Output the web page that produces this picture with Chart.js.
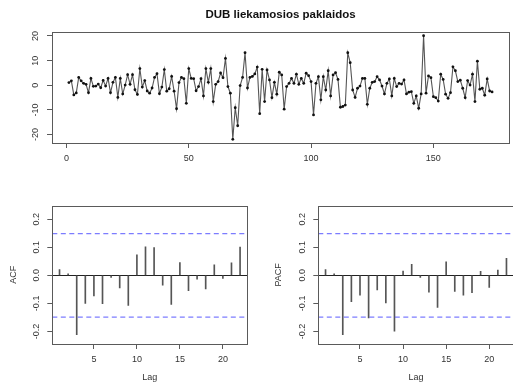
<!DOCTYPE html>
<html>
<head>
<meta charset="utf-8">
<script src="https://cdn.jsdelivr.net/npm/chart.js@4.4.0/dist/chart.umd.min.js"></script>
<style>
  html, body { margin: 0; padding: 0; background: #fff; overflow: hidden; }
  body { width: 513px; height: 385px; position: relative; }
  canvas { position: absolute; }
</style>
</head>
<body>
<canvas id="series" width="513" height="175" style="left:0;top:0"></canvas>
<canvas id="acf" width="257" height="210" style="left:0;top:175px"></canvas>
<canvas id="pacf" width="262" height="210" style="left:256px;top:175px"></canvas>
<script>
// residuals of the DUB model (t = 1..174)
const residuals = [
  1.1, 1.8, -3.9, -3.1, 3.2, 1.8, 0.8, 0.4, -3.0, 2.8,
  -0.4, -0.3, 0.5, -1.0, 2.0, -0.3, 2.8, -3.0, 1.2, 3.2,
  -4.9, 2.8, -3.5, 0.1, 4.3, 0.4, 4.3, -1.8, -3.7, 6.8,
  -0.7, 1.9, -2.3, -3.2, -1.1, 3.2, 4.7, -3.4, -0.7, 6.4,
  -2.4, -1.4, 3.6, -2.4, -9.5, 1.1, 3.2, 2.7, -7.3, 6.8,
  2.8, 2.7, -2.2, -0.5, 2.7, -4.3, 6.8, 1.2, 6.8, -6.6,
  0.4, 1.5, 5.0, 3.1, 10.9, -0.5, -3.2, -21.9, -9.1, -16.4,
  -0.1, 3.2, 13.2, -1.1, 3.2, 3.6, 4.6, 7.4, -11.5, 6.5,
  -6.6, 6.2, 2.2, -5.0, 1.2, -3.6, 5.3, 4.2, -9.7, -0.5,
  0.8, 2.8, 0.8, 4.5, 0.4, 2.8, 0.8, 4.9, 3.9, 1.5,
  -12.0, 0.8, 3.5, -5.9, 3.5, -1.9, 5.9, -4.3, 4.2, 5.1,
  2.4, -8.9, -8.6, -8.0, 13.2, 9.2, -1.9, -4.9, -1.2, -0.3,
  2.8, 2.8, -7.7, -1.2, 1.2, 1.5, 3.5, 2.2, -0.3, -3.5,
  0.8, 2.6, -4.3, 2.8, -0.5, 0.8, 0.5, 2.2, -3.5, -2.8,
  -2.6, -7.3, -4.3, -9.3, -3.5, 20.1, -3.2, 3.8, 3.1, -4.6,
  -5.0, -6.4, 4.5, 2.4, -3.6, -5.3, -3.0, 7.5, 5.9, 1.5,
  2.1, -1.2, -5.0, 1.9, 0.1, 4.5, -6.6, 9.8, -1.6, -1.2,
  -4.0, 2.6, -2.3, -2.7
];

const lags = [1, 2, 3, 4, 5, 6, 7, 8, 9, 10, 11, 12, 13, 14, 15, 16, 17, 18, 19, 20, 21, 22];
const acfValues = [
  0.021, 0.005, -0.212, -0.100, -0.073, -0.101, -0.007, -0.045, -0.107, 0.073, 0.102,
  0.099, -0.035, -0.104, 0.046, -0.055, -0.014, -0.048, 0.038, -0.011, 0.045, 0.101
];
const pacfValues = [
  0.021, 0.005, -0.212, -0.094, -0.071, -0.152, -0.052, -0.098, -0.199, 0.015, 0.039,
  -0.007, -0.060, -0.114, 0.048, -0.057, -0.071, -0.062, 0.014, -0.043, 0.019, 0.061
];
const ciLimit = 0.149; // dashed significance bounds

const seriesXTicks = [0, 50, 100, 150];
const seriesYTicks = [-20, -10, 0, 10, 20];
const lagTicks = [5, 10, 15, 20];
const corrTicks = [-0.2, -0.1, 0.0, 0.1, 0.2];

const FONT = '"Liberation Sans", Arial, Helvetica, sans-serif';
const TEXT = '#333';
const FRAME = '#5a5a5a';

// R-like frame: box around plot, rotated y tick labels, optional ref lines
const rFrame = {
  id: 'rFrame',
  beforeDatasetsDraw(chart, args, opts) {
    const { ctx, chartArea: a } = chart;
    const y = chart.scales.y;
    if (opts.zeroLine) {
      ctx.save();
      ctx.strokeStyle = '#222';
      ctx.lineWidth = 1;
      const zy = Math.round(y.getPixelForValue(0)) + 0.5;
      ctx.beginPath();
      ctx.moveTo(a.left, zy);
      ctx.lineTo(a.right, zy);
      ctx.stroke();
      ctx.restore();
    }
  },
  afterDatasetsDraw(chart, args, opts) {
    const { ctx, chartArea: a } = chart;
    const y = chart.scales.y;
    if (opts.bounds) {
      ctx.save();
      ctx.strokeStyle = 'rgba(80,80,255,0.75)';
      ctx.lineWidth = 1.2;
      ctx.setLineDash([5, 3.5]);
      opts.bounds.forEach(b => {
        const by = y.getPixelForValue(b);
        ctx.beginPath();
        ctx.moveTo(a.left, by);
        ctx.lineTo(a.right, by);
        ctx.stroke();
      });
      ctx.restore();
    }
  },
  afterDraw(chart, args, opts) {
    const { ctx, chartArea: a } = chart;
    const y = chart.scales.y;
    ctx.save();
    ctx.strokeStyle = FRAME;
    ctx.lineWidth = 1;
    ctx.strokeRect(Math.round(a.left) + 0.5, Math.round(a.top) + 0.5,
      Math.round(a.right - a.left), Math.round(a.bottom - a.top));
    ctx.fillStyle = TEXT;
    ctx.font = '9px ' + FONT;
    ctx.textAlign = 'center';
    ctx.textBaseline = 'middle';
    y.ticks.forEach(t => {
      ctx.save();
      ctx.translate(a.left - 16, y.getPixelForValue(t.value));
      ctx.rotate(-Math.PI / 2);
      ctx.fillText(opts.fmt(t.value), 0, 0);
      ctx.restore();
    });
    ctx.restore();
  }
};

function xAxis(min, max, ticks, height, title) {
  return {
    type: 'linear',
    min, max,
    offset: false,
    border: { display: false },
    grid: { drawOnChartArea: false, drawTicks: true, tickLength: 5, color: FRAME, offset: false },
    ticks: { color: TEXT, font: { family: FONT, size: 9 }, padding: 5, maxRotation: 0 },
    title: title ? { display: true, text: title, color: TEXT, font: { family: FONT, size: 9 }, padding: { top: 0, bottom: 2 } } : { display: false },
    afterBuildTicks: s => { s.ticks = ticks.map(v => ({ value: v })); },
    afterFit: s => { s.height = height; }
  };
}

function yAxis(min, max, ticks, width, title, titlePad) {
  return {
    type: 'linear',
    min, max,
    border: { display: false },
    grid: { drawOnChartArea: false, drawTicks: true, tickLength: 5, color: FRAME },
    ticks: { color: 'rgba(0,0,0,0)', font: { family: FONT, size: 9 } },
    title: title ? { display: true, text: title, color: TEXT, font: { family: FONT, size: 9 }, padding: { top: titlePad, bottom: 0 } } : { display: false },
    afterBuildTicks: s => { s.ticks = ticks.map(v => ({ value: v })); },
    afterFit: s => { s.width = width; }
  };
}

// 1) residual time series
new Chart(document.getElementById('series'), {
  type: 'line',
  data: {
    datasets: [{
      data: residuals.map((v, i) => ({ x: i + 1, y: v })),
      borderColor: '#555',
      borderWidth: 1.1,
      pointRadius: 1.4,
      pointBackgroundColor: '#111',
      pointBorderWidth: 0,
      tension: 0
    }]
  },
  options: {
    responsive: false,
    animation: false,
    layout: { padding: { left: 0, right: 1, top: 0, bottom: 0 } },
    plugins: {
      legend: { display: false },
      tooltip: { enabled: false },
      title: {
        display: true,
        fullSize: false,
        text: 'DUB liekamosios paklaidos',
        color: '#111',
        font: { family: FONT, size: 11.5, weight: 'bold' },
        padding: { top: 8, bottom: 10.5 }
      },
      rFrame: { fmt: v => String(v) }
    },
    scales: {
      x: xAxis(-5.92, 180.92, seriesXTicks, 32, null),
      y: yAxis(-23.4, 21.5, seriesYTicks, 52, null, 0)
    }
  },
  plugins: [rFrame]
});

// 2) ACF / PACF panels
function corrChart(id, values, yTitle, yWidth, titlePad, padRight) {
  new Chart(document.getElementById(id), {
    type: 'bar',
    data: {
      datasets: [{
        data: values.map((v, i) => ({ x: lags[i], y: v })),
        backgroundColor: '#555',
        barThickness: 1
      }]
    },
    options: {
      responsive: false,
      animation: false,
      layout: { padding: { left: 0, right: padRight, top: 30.7, bottom: 0 } },
      plugins: {
        legend: { display: false },
        tooltip: { enabled: false },
        rFrame: { fmt: v => v.toFixed(1), zeroLine: true, bounds: [ciLimit, -ciLimit] }
      },
      scales: {
        x: xAxis(0.16, 22.84, lagTicks, 41, 'Lag'),
        y: yAxis(-0.245, 0.2486, corrTicks, yWidth, yTitle, titlePad)
      }
    },
    plugins: [rFrame]
  });
}

corrChart('acf', acfValues, 'ACF', 52.3, 8, 9.7);
corrChart('pacf', pacfValues, 'PACF', 62.3, 17, 4.3);
</script>
</body>
</html>
